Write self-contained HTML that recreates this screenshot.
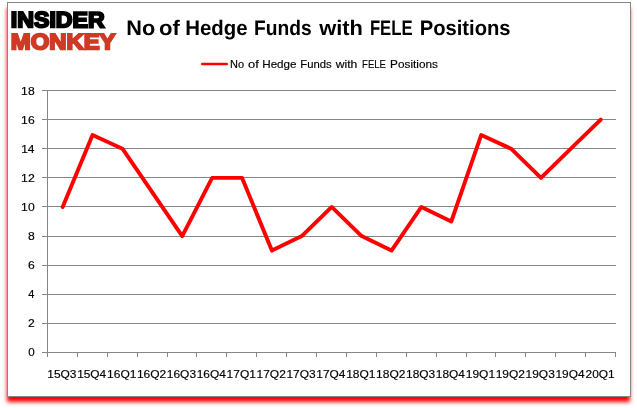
<!DOCTYPE html>
<html lang="en">
<head>
<meta charset="utf-8">
<title>No of Hedge Funds with FELE Positions</title>
<style>
html,body{margin:0;padding:0;background:#fff;}
body{width:637px;height:408px;position:relative;overflow:hidden;font-family:"Liberation Sans",sans-serif;}
.frame{position:absolute;left:7px;top:2px;width:622px;height:393px;border:1px solid #878787;background:#fff;box-shadow:-0.4px 5.1px 4px -0.6px #ff0000;}
svg{position:absolute;left:0;top:0;}
svg text{font-family:"Liberation Sans",sans-serif;}
</style>
</head>
<body>
<div class="frame"></div>
<svg width="637" height="408" viewBox="0 0 637 408">
<g font-weight="bold" stroke-linejoin="miter" stroke-width="2" style="text-rendering:geometricPrecision">
<text transform="rotate(0.03 10 27.35)" x="10.8" y="27.35" font-size="22.3" textLength="93.9" lengthAdjust="spacingAndGlyphs" fill="#000" stroke="#000">INSIDER</text>
<text transform="rotate(0.03 10 49.3)" x="10.8" y="49.3" font-size="22.3" textLength="104.7" lengthAdjust="spacingAndGlyphs" fill="#cd3b27" stroke="#cd3b27">MONKEY</text>
</g>
<text transform="rotate(0.02 127 34.6)" y="34.6" font-weight="bold" font-size="21.0" fill="#000" style="text-rendering:geometricPrecision"><tspan x="126.38" textLength="28.92" lengthAdjust="spacingAndGlyphs">No</tspan> <tspan x="159.08" textLength="20.87" lengthAdjust="spacingAndGlyphs">of</tspan> <tspan x="185.16" textLength="62.4" lengthAdjust="spacingAndGlyphs">Hedge</tspan> <tspan x="254.04" textLength="57.65" lengthAdjust="spacingAndGlyphs">Funds</tspan> <tspan x="319.2" textLength="43.72" lengthAdjust="spacingAndGlyphs">with</tspan> <tspan x="369.91" textLength="42.73" lengthAdjust="spacingAndGlyphs">FELE</tspan> <tspan x="419.68" textLength="90.87" lengthAdjust="spacingAndGlyphs">Positions</tspan></text>
<line x1="202.2" y1="64" x2="226.8" y2="64" stroke="#ff0000" stroke-width="2.4" stroke-linecap="round"/>
<text y="67.9" font-size="10.6" fill="#000" stroke="#000" stroke-width="0.15"><tspan x="230.09" textLength="14.05" lengthAdjust="spacingAndGlyphs">No</tspan> <tspan x="248.09" textLength="10.77" lengthAdjust="spacingAndGlyphs">of</tspan> <tspan x="262.24" textLength="34.29" lengthAdjust="spacingAndGlyphs">Hedge</tspan> <tspan x="300.37" textLength="31.39" lengthAdjust="spacingAndGlyphs">Funds</tspan> <tspan x="335.7" textLength="21.63" lengthAdjust="spacingAndGlyphs">with</tspan> <tspan x="362.12" textLength="23.74" lengthAdjust="spacingAndGlyphs">FELE</tspan> <tspan x="390.13" textLength="47.8" lengthAdjust="spacingAndGlyphs">Positions</tspan></text>
<g stroke="#868686" stroke-width="1" shape-rendering="crispEdges">
<line x1="42.0" y1="352.5" x2="616.0" y2="352.5"/>
<line x1="42.0" y1="323.5" x2="616.0" y2="323.5"/>
<line x1="42.0" y1="294.5" x2="616.0" y2="294.5"/>
<line x1="42.0" y1="265.5" x2="616.0" y2="265.5"/>
<line x1="42.0" y1="236.5" x2="616.0" y2="236.5"/>
<line x1="42.0" y1="206.5" x2="616.0" y2="206.5"/>
<line x1="42.0" y1="177.5" x2="616.0" y2="177.5"/>
<line x1="42.0" y1="148.5" x2="616.0" y2="148.5"/>
<line x1="42.0" y1="119.5" x2="616.0" y2="119.5"/>
<line x1="42.0" y1="90.5" x2="616.0" y2="90.5"/>
<line x1="47.5" y1="90.0" x2="47.5" y2="353.0"/>
<line x1="47.5" y1="352.5" x2="47.5" y2="357.0"/>
<line x1="77.5" y1="352.5" x2="77.5" y2="357.0"/>
<line x1="107.5" y1="352.5" x2="107.5" y2="357.0"/>
<line x1="137.5" y1="352.5" x2="137.5" y2="357.0"/>
<line x1="167.5" y1="352.5" x2="167.5" y2="357.0"/>
<line x1="196.5" y1="352.5" x2="196.5" y2="357.0"/>
<line x1="226.5" y1="352.5" x2="226.5" y2="357.0"/>
<line x1="256.5" y1="352.5" x2="256.5" y2="357.0"/>
<line x1="286.5" y1="352.5" x2="286.5" y2="357.0"/>
<line x1="316.5" y1="352.5" x2="316.5" y2="357.0"/>
<line x1="346.5" y1="352.5" x2="346.5" y2="357.0"/>
<line x1="376.5" y1="352.5" x2="376.5" y2="357.0"/>
<line x1="406.5" y1="352.5" x2="406.5" y2="357.0"/>
<line x1="436.5" y1="352.5" x2="436.5" y2="357.0"/>
<line x1="466.5" y1="352.5" x2="466.5" y2="357.0"/>
<line x1="495.5" y1="352.5" x2="495.5" y2="357.0"/>
<line x1="525.5" y1="352.5" x2="525.5" y2="357.0"/>
<line x1="555.5" y1="352.5" x2="555.5" y2="357.0"/>
<line x1="585.5" y1="352.5" x2="585.5" y2="357.0"/>
<line x1="615.5" y1="352.5" x2="615.5" y2="357.0"/>
</g>
<g font-size="10.6" fill="#000" stroke="#000" stroke-width="0.15">
<text x="28.19" y="356" textLength="6.44" lengthAdjust="spacingAndGlyphs">0</text>
<text x="28.03" y="327" textLength="6.77" lengthAdjust="spacingAndGlyphs">2</text>
<text x="28.34" y="298" textLength="6.14" lengthAdjust="spacingAndGlyphs">4</text>
<text x="28.03" y="269" textLength="6.77" lengthAdjust="spacingAndGlyphs">6</text>
<text x="28.03" y="240" textLength="6.77" lengthAdjust="spacingAndGlyphs">8</text>
<text x="21.14" y="211" textLength="13.54" lengthAdjust="spacingAndGlyphs">10</text>
<text x="21.13" y="182" textLength="13.7" lengthAdjust="spacingAndGlyphs">12</text>
<text x="21.15" y="153" textLength="13.38" lengthAdjust="spacingAndGlyphs">14</text>
<text x="21.14" y="124" textLength="13.54" lengthAdjust="spacingAndGlyphs">16</text>
<text x="21.14" y="95" textLength="13.54" lengthAdjust="spacingAndGlyphs">18</text>
<text x="47.25" y="377.9" textLength="29.23" lengthAdjust="spacingAndGlyphs">15Q3</text>
<text x="77.15" y="377.9" textLength="29.08" lengthAdjust="spacingAndGlyphs">15Q4</text>
<text x="107.04" y="377.9" textLength="29.37" lengthAdjust="spacingAndGlyphs">16Q1</text>
<text x="136.93" y="377.9" textLength="29.37" lengthAdjust="spacingAndGlyphs">16Q2</text>
<text x="166.83" y="377.9" textLength="29.23" lengthAdjust="spacingAndGlyphs">16Q3</text>
<text x="196.73" y="377.9" textLength="29.08" lengthAdjust="spacingAndGlyphs">16Q4</text>
<text x="226.62" y="377.9" textLength="29.37" lengthAdjust="spacingAndGlyphs">17Q1</text>
<text x="256.51" y="377.9" textLength="29.37" lengthAdjust="spacingAndGlyphs">17Q2</text>
<text x="286.41" y="377.9" textLength="29.23" lengthAdjust="spacingAndGlyphs">17Q3</text>
<text x="316.31" y="377.9" textLength="29.08" lengthAdjust="spacingAndGlyphs">17Q4</text>
<text x="346.2" y="377.9" textLength="29.37" lengthAdjust="spacingAndGlyphs">18Q1</text>
<text x="376.09" y="377.9" textLength="29.37" lengthAdjust="spacingAndGlyphs">18Q2</text>
<text x="405.99" y="377.9" textLength="29.23" lengthAdjust="spacingAndGlyphs">18Q3</text>
<text x="435.89" y="377.9" textLength="29.08" lengthAdjust="spacingAndGlyphs">18Q4</text>
<text x="465.78" y="377.9" textLength="29.37" lengthAdjust="spacingAndGlyphs">19Q1</text>
<text x="495.67" y="377.9" textLength="29.37" lengthAdjust="spacingAndGlyphs">19Q2</text>
<text x="525.57" y="377.9" textLength="29.23" lengthAdjust="spacingAndGlyphs">19Q3</text>
<text x="555.47" y="377.9" textLength="29.08" lengthAdjust="spacingAndGlyphs">19Q4</text>
<text x="585.64" y="377.9" textLength="29.08" lengthAdjust="spacingAndGlyphs">20Q1</text>
</g>
<polyline points="62.65,206.94 92.54,135.07 122.44,148.72 152.33,192.39 182.23,236.06 212.12,177.83 242.02,177.83 271.91,250.61 301.81,236.06 331.70,206.94 361.59,236.06 391.49,250.61 421.38,206.94 451.28,221.50 481.17,135.07 511.07,148.72 540.96,177.83 570.86,148.72 600.75,119.61" fill="none" stroke="#ff0000" stroke-width="3.9" stroke-linecap="round" stroke-linejoin="round"/>
</svg>
</body>
</html>
